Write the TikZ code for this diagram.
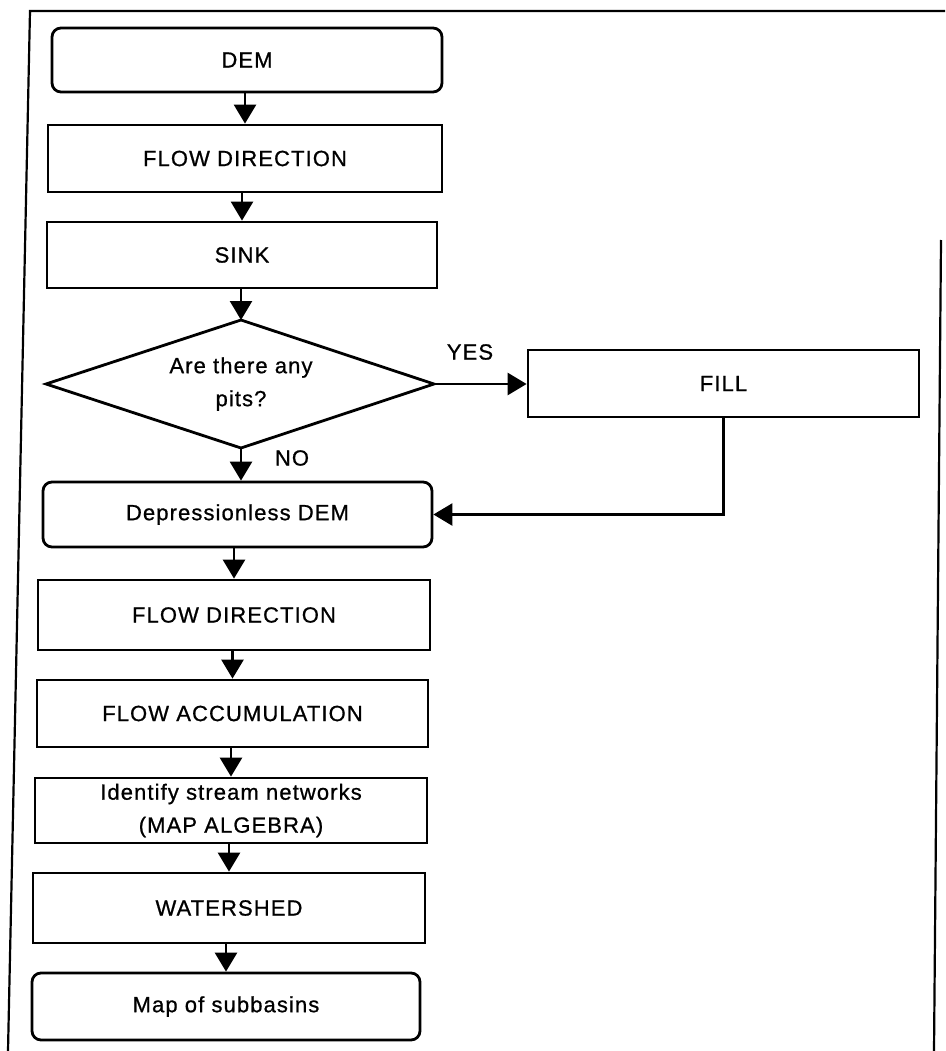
\documentclass[tikz,border=0pt]{standalone}
\usepackage{fontspec}
\setmainfont{Liberation Sans}[LetterSpace=5,FakeBold=0.8]
\usetikzlibrary{arrows.meta}
\begin{document}
\begin{tikzpicture}[x=1pt,y=-1pt,
  every node/.style={font=\fontsize{22}{33}\selectfont, align=center, inner sep=0pt},
  stepbox/.style={draw, line width=2.8pt, minimum width=#1, minimum height=67pt},
  stepbox/.default=392pt,
  termbox/.style={stepbox=#1, rounded corners=9pt},
  termbox/.default=390pt,
  arr/.style={line width=2.6pt, -{Triangle[length=19pt,width=22pt]}},
  label/.style={font=\fontsize{22}{26}\selectfont}
]
\useasboundingbox (0,0) rectangle (945,1051);

% outer frame (open at the bottom)
\draw[line width=2.2pt] (8,1051) -- (30,11) -- (945,11);
\draw[line width=2.2pt] (941,240) -- (934,1051);

% main column
\node[termbox=390pt, minimum height=64pt] (dem) at (247,60) {DEM};
\node[stepbox=394pt] (fd1) at (245,158.5) {FLOW DIRECTION};
\node[stepbox=390pt, minimum height=66pt] (sink) at (242,255) {SINK};

% decision diamond
\coordinate (dtop) at (241,320);
\coordinate (dleft) at (46,384);
\coordinate (dbot) at (241,448);
\coordinate (dright) at (434,384);
\draw[line width=2.8pt, line join=miter] (dtop) -- (dright) -- (dbot) -- (dleft) -- cycle;
\node (pits) at (241,384) {Are there any\\pits?};

\node[stepbox=391pt] (fill) at (723.5,383.5) {FILL};
\node[termbox=389pt, minimum height=65pt] (dep) at (237.5,514.5) {Depressionless DEM};
\node[stepbox=392pt, minimum height=70pt] (fd2) at (234,615) {FLOW DIRECTION};
\node[stepbox=391pt] (acc) at (232.5,713.5) {FLOW ACCUMULATION};
\node[stepbox=392pt, minimum height=65pt] (net) at (231,810.5) {Identify stream networks\\(MAP ALGEBRA)};
\node[stepbox=392pt, minimum height=70pt] (shed) at (229,908) {WATERSHED};
\node[termbox=388pt, minimum height=67pt] (basin) at (226,1006.5) {Map of subbasins};

% connectors
\draw[arr] (dem.south -| fd1.north) -- (fd1.north);
\draw[arr] (fd1.south -| sink.north) -- (sink.north);
\draw[arr] (sink.south -| dtop) -- (dtop);
\draw[arr] (dright) -- (dright -| fill.west);
\draw[arr] (dbot) -- (dbot |- dep.north);
\draw[arr] (fill.south) |- (dep.east);
\draw[arr] (dep.south -| fd2.north) -- (fd2.north);
\draw[arr] (fd2.south -| acc.north) -- (acc.north);
\draw[arr] (acc.south -| net.north) -- (net.north);
\draw[arr] (net.south -| shed.north) -- (shed.north);
\draw[arr] (shed.south -| basin.north) -- (basin.north);

% branch labels
\node[label] (yes) at (470,352) {YES};
\node[label] (no) at (292,458) {NO};
\end{tikzpicture}
\end{document}
